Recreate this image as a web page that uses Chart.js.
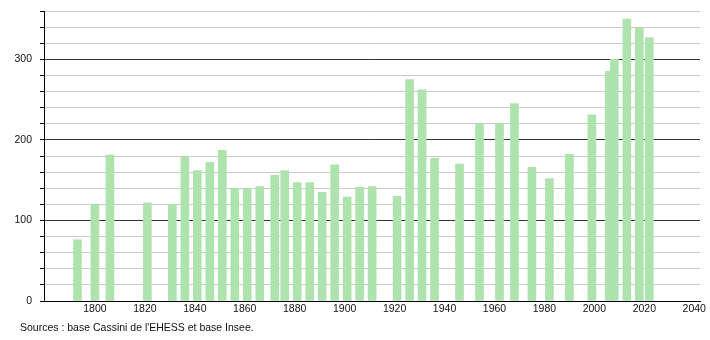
<!DOCTYPE html>
<html>
<head>
<meta charset="utf-8">
<script src="https://cdn.jsdelivr.net/npm/chart.js@4"></script>
<style>
  html, body { margin: 0; padding: 0; background: #fff; }
  #wrap { position: relative; width: 710px; height: 340px; }
  #c { position: absolute; left: 0; top: 0; }
  #src { position: absolute; left: 20px; top: 321px; font: 10.5px "Liberation Sans", Arial, sans-serif; color: #111; white-space: nowrap; }
</style>
</head>
<body>
<div id="wrap">
  <canvas id="c" width="710" height="340"></canvas>
  <div id="src">Sources : base Cassini de l'EHESS et base Insee.</div>
</div>
<script>
const years = [1793,1800,1806,1821,1831,1836,1841,1846,1851,1856,1861,1866,1872,1876,1881,1886,1891,1896,1901,1906,1911,1921,1926,1931,1936,1946,1954,1962,1968,1975,1982,1990,1999,2006,2008,2013,2018,2022];
const population = [76,120,181,122,120,179,162,172,187,140,139,142,156,162,147,147,135,169,129,141,142,130,275,262,177,170,220,220,245,166,152,182,231,285,300,350,339,327];
const xTicks = [1800,1820,1840,1860,1880,1900,1920,1940,1960,1980,2000,2020,2040];
const yLabels = [0,100,200,300];

const points = years.map((y, i) => ({ x: y, y: population[i] }));

new Chart(document.getElementById('c'), {
  type: 'bar',
  data: {
    datasets: [{
      data: points,
      backgroundColor: 'rgb(174,227,174)',
      borderWidth: 0,
      barThickness: 8
    }]
  },
  options: {
    responsive: false,
    animation: false,
    events: [],
    layout: { padding: { left: 0, right: 10, top: 11, bottom: 0 } },
    plugins: { legend: { display: false }, tooltip: { enabled: false } },
    scales: {
      x: {
        type: 'linear',
        offset: false,
        min: 1779.6,
        max: 2042.3,
        afterBuildTicks: (s) => { s.ticks = xTicks.map(v => ({ value: v })); },
        afterFit: (s) => { s.height = 39; s.paddingLeft = 0; s.paddingRight = 0; },
        grid: { display: false, drawTicks: false },
        border: { display: true, color: '#000', width: 1 },
        ticks: {
          font: { family: '"Liberation Sans", Arial, sans-serif', size: 10.5 },
          color: '#111',
          padding: 2,
          maxRotation: 0,
          autoSkip: false,
          callback: (v) => String(v)
        }
      },
      y: {
        min: 0,
        max: 360,
        afterFit: (s) => { s.width = 44; s.paddingTop = 0; s.paddingBottom = 0; },
        ticks: {
          stepSize: 20,
          font: { family: '"Liberation Sans", Arial, sans-serif', size: 10.5 },
          color: '#111',
          padding: 8,
          callback: (v) => yLabels.includes(v) ? String(v) : ''
        },
        grid: {
          color: (ctx) => (ctx.tick && ctx.tick.value % 100 === 0) ? '#333' : '#c8c8c8',
          tickColor: '#000',
          tickLength: 4,
          lineWidth: 1
        },
        border: { display: true, color: '#000', width: 1 }
      }
    }
  }
});
</script>
</body>
</html>
